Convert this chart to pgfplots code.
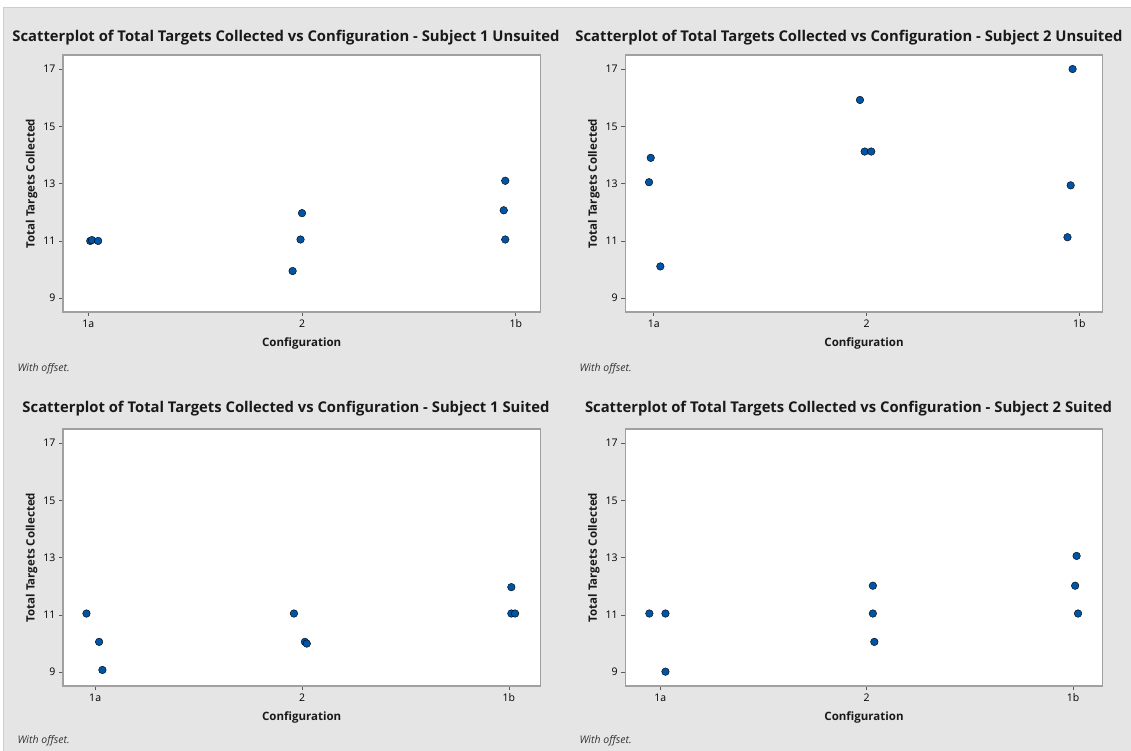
\documentclass[border=0pt]{standalone}
\usepackage{fontspec}
\setmainfont{Open Sans}
\usepackage{pgfplots}
\pgfplotsset{compat=1.18}
\definecolor{bggray}{RGB}{229,229,229}
\definecolor{edgegray}{RGB}{205,205,205}
\definecolor{boxgray}{RGB}{160,160,160}
\definecolor{mblue}{RGB}{0,84,166}
\definecolor{tickgray}{RGB}{90,90,90}
\pgfplotsset{
 mstyle/.style={
  scale only axis, width=477.6pt, height=257pt, anchor=south west,
  ymin=8.52, ymax=17.49, ytick={9,11,13,15,17},
  xtick={0,1,2}, xticklabels={1a,2,1b},
  /pgf/number format/assume math mode=true,
  axis background/.style={fill=white},
  axis line style={draw=boxgray, line width=1.2pt},
  tick style={draw=tickgray, line width=0.6pt},
  tick align=outside, tick pos=left, major tick length=4pt,
  tick label style={font=\fontsize{10.5}{12}\selectfont, text=black},
  xlabel={Configuration}, ylabel={Total Targets Collected},
  label style={font=\fontsize{11.5}{13}\selectfont\bfseries, text=black!90},
  xlabel style={at={(axis description cs:0.5,-0.1206)}, anchor=center},
  ylabel style={at={(axis description cs:-0.0655,0.5)}, anchor=center},
 },
 mplot/.style={only marks, mark=*, mark size=3.8pt, mark options={draw=none, fill=mblue}},
}
\begin{document}
\begin{tikzpicture}
\useasboundingbox (0pt,0pt) rectangle (1131pt,751pt);
\fill[white] (0pt,0pt) rectangle (1131pt,751pt);
\fill[bggray] (3pt,0pt) rectangle (1131pt,743pt);
\draw[edgegray, line width=1pt] (3pt,0pt) -- (3pt,743pt) -- (1131pt,743pt);

% Panel 1
\begin{axis}[mstyle, at={(62.9pt,439pt)}, xmin=-0.119, xmax=2.116]
\addplot[mplot] coordinates {(0.009,11.0) (0.017,11.03) (0.046,11.0) (0.956,9.95) (0.993,11.05) (1.0,11.97) (1.951,13.1) (1.944,12.07) (1.951,11.05)};
\end{axis}
% Panel 2
\begin{axis}[mstyle, at={(625.2pt,439pt)}, xmin=-0.134, xmax=2.11]
\addplot[mplot] coordinates {(-0.014,13.90) (-0.022,13.05) (0.031,10.11) (0.969,15.92) (0.991,14.12) (1.022,14.12) (1.968,17.0) (1.959,12.94) (1.944,11.13)};
\end{axis}
% Panel 3
\begin{axis}[mstyle, at={(62.9pt,65pt)}, xmin=-0.156, xmax=2.153]
\addplot[mplot] coordinates {(-0.042,11.05) (0.019,10.06) (0.035,9.08) (0.961,11.05) (1.014,10.06) (1.023,10.0) (2.012,11.97) (2.012,11.05) (2.03,11.05)};
\end{axis}
% Panel 4
\begin{axis}[mstyle, at={(625.2pt,65pt)}, xmin=-0.17, xmax=2.144]
\addplot[mplot] coordinates {(-0.053,11.05) (0.025,11.05) (0.025,9.02) (1.03,12.02) (1.03,11.05) (1.037,10.06) (2.017,13.06) (2.01,12.02) (2.024,11.05)};
\end{axis}

\tikzset{ttl/.style={font=\fontsize{14.8}{17}\selectfont\bfseries, text=black!90}, off/.style={anchor=west, font=\fontsize{10.5}{12}\selectfont\itshape, text=black!80}}
\node[ttl] at (286pt,713pt) {Scatterplot of Total Targets Collected vs Configuration - Subject 1 Unsuited};
\node[ttl] at (849pt,713pt) {Scatterplot of Total Targets Collected vs Configuration - Subject 2 Unsuited};
\node[ttl] at (286pt,342pt) {Scatterplot of Total Targets Collected vs Configuration - Subject 1 Suited};
\node[ttl] at (848.5pt,342pt) {Scatterplot of Total Targets Collected vs Configuration - Subject 2 Suited};
\node[off] at (14pt,382pt) {With offset.};
\node[off] at (576pt,382pt) {With offset.};
\node[off] at (14pt,10pt) {With offset.};
\node[off] at (576pt,10pt) {With offset.};
\end{tikzpicture}
\end{document}
